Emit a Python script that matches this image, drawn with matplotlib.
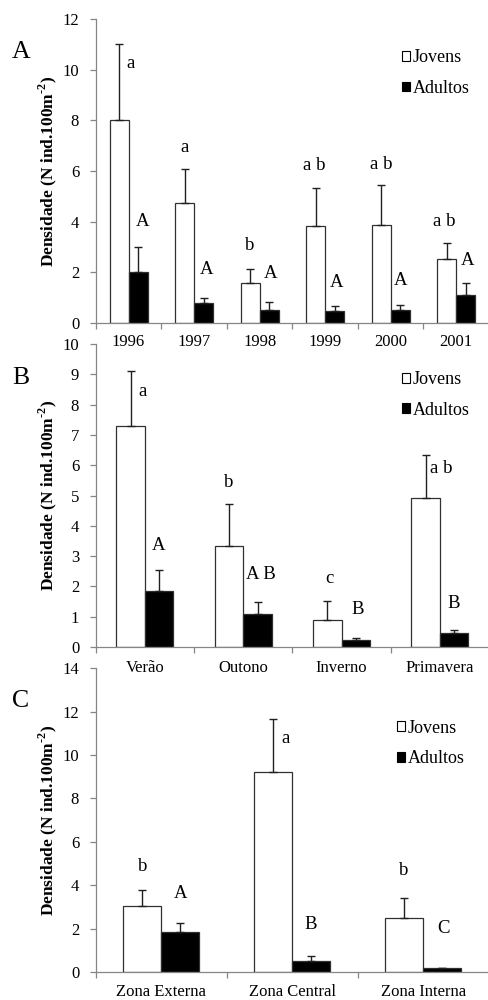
"""
Densidade de jovens e adultos por ano, estação e zona (painéis A, B, C)
"""

import matplotlib
matplotlib.use("Agg")
import matplotlib.pyplot as plt
from matplotlib.patches import Patch
import numpy as np

plt.rcParams.update({
    "font.family": ["Liberation Serif", "DejaVu Serif"],
    "mathtext.fontset": "custom",
    "mathtext.rm": "Liberation Serif",
    "mathtext.bf": "Liberation Serif:bold",
    "axes.edgecolor": "#868686",
    "xtick.color": "#868686",
    "ytick.color": "#868686",
    "xtick.labelcolor": "black",
    "ytick.labelcolor": "black",
})

# ── dados ──
anos = ["1996", "1997", "1998", "1999", "2000", "2001"]
jov_anos = [8.0, 4.72, 1.57, 3.81, 3.86, 2.53]
jov_anos_ep = [3.0, 1.35, 0.58, 1.53, 1.57, 0.61]
ad_anos = [2.0, 0.77, 0.53, 0.47, 0.53, 1.11]
ad_anos_ep = [1.0, 0.23, 0.28, 0.20, 0.18, 0.46]
let_jov_anos = ["a", "a", "b", "a b", "a b", "a b"]
let_ad_anos = ["A", "A", "A", "A", "A", "A"]

estacoes = ["Verão", "Outono", "Inverno", "Primavera"]
jov_est = [7.28, 3.34, 0.89, 4.91]
jov_est_ep = [1.84, 1.37, 0.64, 1.43]
ad_est = [1.85, 1.10, 0.23, 0.46]
ad_est_ep = [0.68, 0.39, 0.08, 0.11]
let_jov_est = ["a", "b", "c", "a b"]
let_ad_est = ["A", "A B", "B", "B"]

zonas = ["Zona Externa", "Zona Central", "Zona Interna"]
jov_zona = [3.06, 9.23, 2.51]
jov_zona_ep = [0.72, 2.45, 0.89]
ad_zona = [1.85, 0.51, 0.18]
ad_zona_ep = [0.43, 0.23, 0.0]
let_jov_zona = ["b", "a", "b"]
let_ad_zona = ["A", "B", "C"]

# deslocamento das letras (pixels) em relação ao topo da barra de erro
off_jov_anos = [(11.5, -19), (0, 22), (0, 23), (-1.5, 22), (0, 21), (-2, 22)]
off_ad_anos = [(4, 25), (3, 28), (1, 29), (2, 24), (0, 25), (1.5, 23)]
off_jov_est = [(12, -21), (0, 22), (2, 22), (15.5, -14)]
off_ad_est = [(-1, 25), (3.7, 27), (1.6, 28), (0, 26)]
off_jov_zona = [(0, 24), (12.4, -20), (-1, 28)]
off_ad_zona = [(0.5, 29), (-1, 31), (1.5, 39.5)]

YLABEL = r"Densidade (N ind.100m$^{\text{-}\mathbf{2}}$)"
W = 0.29

fig = plt.figure(figsize=(4.89, 10), dpi=100)


def painel(rect, cats, jov, jov_ep, ad, ad_ep, let_j, let_a, off_j, off_a,
           ymax, ystep, tickpad, leg_xy):
    ax = fig.add_axes(rect)
    ax.patch.set_visible(False)
    x = np.arange(len(cats))
    zeros = np.zeros(len(cats))
    ax.bar(x - W / 2, jov, W, color="white", edgecolor="#303030", linewidth=0.9,
           yerr=[zeros, jov_ep], capsize=3,
           error_kw=dict(ecolor="#202020", elinewidth=1.0, capthick=1.0))
    ax.bar(x + W / 2, ad, W, color="black", edgecolor="#303030", linewidth=0.9,
           yerr=[zeros, ad_ep], capsize=3,
           error_kw=dict(ecolor="#202020", elinewidth=1.0, capthick=1.0))

    for i in range(len(cats)):
        for xc, v, e, t, o in ((x[i] - W / 2, jov[i], jov_ep[i], let_j[i], off_j[i]),
                               (x[i] + W / 2, ad[i], ad_ep[i], let_a[i], off_a[i])):
            ax.annotate(t, (xc, v + e), xytext=o, textcoords="offset pixels",
                        ha="center", va="center", fontsize=13.5)

    ax.set_xlim(-0.5, len(cats) - 0.5)
    ax.set_ylim(0, ymax)
    ax.set_yticks(np.arange(0, ymax + 0.01, ystep))
    ax.set_xticks(np.arange(len(cats) + 1) - 0.5)
    ax.set_xticklabels([])
    ax.set_xticks(x, minor=True)
    ax.set_xticklabels(cats, minor=True)
    ax.tick_params(axis="x", which="major", direction="out", length=4, width=0.9)
    ax.tick_params(axis="x", which="minor", length=0, pad=tickpad, labelsize=12)
    ax.tick_params(axis="y", direction="out", length=4, width=0.9, pad=8, labelsize=12)
    for s in ("top", "right"):
        ax.spines[s].set_visible(False)
    for s in ("left", "bottom"):
        ax.spines[s].set_linewidth(0.9)

    ax.set_ylabel(YLABEL, fontsize=12.5, fontweight="bold", va="center")
    ax.yaxis.set_label_coords(-0.122, 0.5)

    handles = [Patch(facecolor="white", edgecolor="black", linewidth=0.8),
               Patch(facecolor="black", edgecolor="black", linewidth=0.8)]
    ax.legend(handles, ["Jovens", "Adultos"], loc="center left", bbox_to_anchor=leg_xy,
              frameon=False, fontsize=13, borderpad=0, handlelength=0.45,
              handleheight=0.45, handletextpad=0.15, labelspacing=0.75)
    return ax


painel([0.196, 0.677, 0.804, 0.304], anos, jov_anos, jov_anos_ep, ad_anos, ad_anos_ep,
       let_jov_anos, let_ad_anos, off_jov_anos, off_ad_anos, 12, 2, 8, (0.755, 0.822))
painel([0.196, 0.353, 0.804, 0.303], estacoes, jov_est, jov_est_ep, ad_est, ad_est_ep,
       let_jov_est, let_ad_est, off_jov_est, off_ad_est, 10, 1, 9.5, (0.755, 0.832))
painel([0.196, 0.028, 0.804, 0.3037], zonas, jov_zona, jov_zona_ep, ad_zona, ad_zona_ep,
       let_jov_zona, let_ad_zona, off_jov_zona, off_ad_zona, 14, 2, 9, (0.743, 0.753))

# letras dos painéis
for letra, ypix in (("A", 51.7), ("B", 377.5), ("C", 700.8)):
    fig.text(21 / 489, 1 - ypix / 1000, letra, fontsize=18.5, ha="center", va="center")

fig.savefig("out.png", dpi=100)
